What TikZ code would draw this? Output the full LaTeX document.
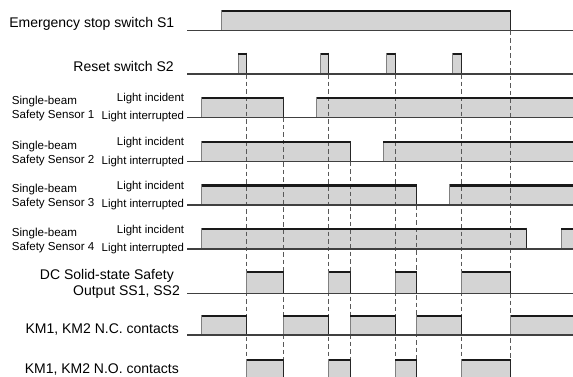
\documentclass[tikz,border=0pt]{standalone}
\usepackage{fontspec}
\setmainfont{Liberation Sans}
\begin{document}
\begin{tikzpicture}[x=1pt,y=-1pt,
  pulsefill/.style={fill=black!17},
  topline/.style={draw=black!90,line width=2.4pt},
  riseedge/.style={draw=black!50,line width=0.8pt},
  falledge/.style={draw=black!85,line width=0.9pt},
  trace/.style={draw=black!75,line width=1.2pt},
  guide/.style={draw=black!65,line width=0.8pt,dash pattern=on 4.5pt off 3pt},
  biglabel/.style={inner sep=0pt,anchor=base east,font=\fontsize{14}{16}\selectfont},
  senslabel/.style={inner sep=0pt,anchor=base west,font=\fontsize{11.6}{14}\selectfont},
  lightlabel/.style={inner sep=0pt,anchor=base east,font=\fontsize{11.4}{13}\selectfont}]
\useasboundingbox (0,0) rectangle (573,376);
\clip (0,0) rectangle (573,376);
\def\pulselist{221.8/510.7/10/30.7, 238.3/246.7/52.7/74, 320.7/328.7/52.7/74, 386.7/395.3/52.7/74, 452.7/461.7/52.7/74,
201.7/283.3/96.7/117.3, 316.7/576/96.7/117.3,
201.7/350/141/161.7, 383.3/576/141/161.7,
201.7/416.7/184.3/205, 449.6/576/184.3/205,
201.7/526.3/227.7/249, 561/576/227.7/249,
246.7/283.3/271/293.3, 328.7/350/271/293.3, 395.3/416.7/271/293.3, 461.7/510.7/271/293.3,
201.7/246.7/314.5/335, 283.3/328.7/314.5/335, 350/395.3/314.5/335, 416.7/461.7/314.5/335, 510.7/576/314.5/335,
246.7/283.3/359/380, 328.7/350/359/380, 395.3/416.7/359/380, 461.7/510.7/359/380}
% fills
\foreach \xa/\xb/\yt/\yb in \pulselist {\fill[pulsefill] (\xa,\yt) rectangle (\xb,\yb);}
% guides
\foreach \gx/\gy in {246.7/74, 328.7/74, 395.3/74, 461.7/74, 510.7/30.7, 283.3/117.3, 350/161.7, 416.7/205}
  {\draw[guide] (\gx,\gy) -- (\gx,376);}
% edges and tops
\foreach \xa/\xb/\yt/\yb in \pulselist {
  \draw[riseedge] (\xa,\yb) -- (\xa,\yt);
  \draw[falledge] (\xb,\yt) -- (\xb,\yb);
  \draw[topline] (\xa,\yt+1.2) -- (\xb,\yt+1.2);
}
% traces
\foreach \ty in {30.7, 74, 117.3, 161.7, 205, 249, 293.3, 335}
  {\draw[trace] (187,\ty) -- (573,\ty);}
% labels
\node[biglabel] (s1) at (174.5,27.5) {Emergency stop switch S1};
\node[biglabel] (s2) at (174,71) {Reset switch S2};
\foreach \n/\ly in {1/117.3, 2/161.7, 3/205, 4/249} {
  \node[senslabel] (sb\n) at (11.7,\ly-12.5) {Single-beam};
  \node[senslabel] (ss\n) at (11.7,\ly+1.5) {Safety Sensor \n};
  \node[lightlabel] (li\n) at (184.3,\ly-16) {Light incident};
  \node[lightlabel] (lr\n) at (184.3,\ly+2.5) {Light interrupted};
}
\node[biglabel] (dc1) at (174,279.5) {DC Solid-state Safety};
\node[biglabel] (dc2) at (180,295) {Output SS1, SS2};
\node[biglabel] (nc) at (179,333) {KM1, KM2 N.C. contacts};
\node[biglabel] (no) at (179,373) {KM1, KM2 N.O. contacts};
\end{tikzpicture}
\end{document}
